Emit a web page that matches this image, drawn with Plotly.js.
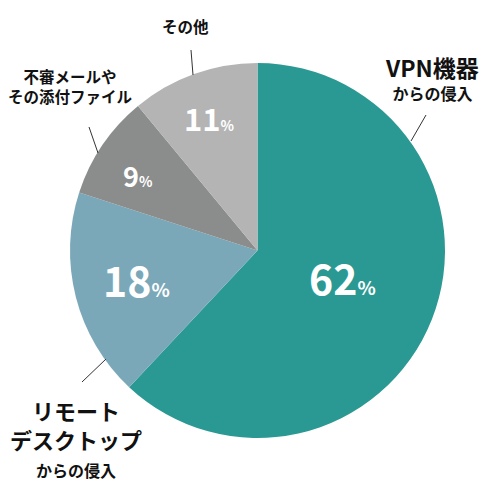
<!DOCTYPE html>
<html>
<head>
<meta charset="utf-8">
<script src="https://cdn.plot.ly/plotly-3.0.1.min.js"></script>
<style>html,body{margin:0;padding:0;background:#fff;}#chart{width:500px;height:500px;}</style>
</head>
<body>
<div id="chart"></div>
<script>
// ---- data ----
const categories = ["VPN機器からの侵入", "リモートデスクトップからの侵入", "不審メールやその添付ファイル", "その他"];
const values = [62, 18, 9, 11];
const sliceColors = ["#2b9993", "#7ba8b9", "#8b8c8c", "#b4b4b4"];
const outsideLabels = [
  ["VPN機器", "からの侵入"],
  ["リモート", "デスクトップ", "からの侵入"],
  ["不審メールや", "その添付ファイル"],
  ["その他"]
];

// ---- layout helpers (pixel -> paper) ----
const W = 500, H = 500;
const px = x => x / W;
const py = y => 1 - y / H;
const FONT = "'Noto Sans CJK JP', 'Noto Sans', sans-serif";

// percent label placement [x, y, numberSize, pctSize]
const pctPlace = [
  [342, 277, 41, 19],
  [136, 279, 41, 19],
  [138, 175, 27, 14],
  [209, 117, 31, 14]
];
// outside label blocks: [x, centerY, baseSize(line spacing), per-line sizes]
const outPlace = [
  [432, 77, 18, [23, 16]],
  [76, 438, 22, [22, 22, 16]],
  [70, 86, 15, [15.5, 15.5]],
  [185, 26, 15.5, [15.5]]
];
// leader lines [x0,y0,x1,y1]
const leaders = [
  [411, 141, 426, 115],
  [106, 359, 82, 382],
  [98, 153, 89, 127],
  [193, 75, 191, 50]
];

const annotations = [];
values.forEach((v, i) => {
  const p = pctPlace[i];
  annotations.push({
    x: px(p[0]), y: py(p[1]), xref: "paper", yref: "paper",
    xanchor: "center", yanchor: "middle", showarrow: false,
    text: "<b>" + v + "</b><span style='font-size:" + p[3] + "px'><b>%</b></span>",
    font: {family: FONT, size: p[2], color: "#ffffff"}
  });
  const q = outPlace[i];
  const txt = outsideLabels[i].map((t, j) =>
    "<span style='font-size:" + q[3][j] + "px'><b>" + t + "</b></span>").join("<br>");
  annotations.push({
    x: px(q[0]), y: py(q[1]), xref: "paper", yref: "paper",
    xanchor: "center", yanchor: "middle", showarrow: false, align: "center",
    text: txt, font: {family: FONT, size: q[2], color: "#111111"}
  });
});

const shapes = leaders.map(l => ({
  type: "line", xref: "paper", yref: "paper",
  x0: px(l[0]), y0: py(l[1]), x1: px(l[2]), y1: py(l[3]),
  line: {color: "#333333", width: 1}
}));

const trace = {
  type: "pie",
  labels: categories,
  values: values,
  sort: false,
  direction: "clockwise",
  rotation: 0,
  marker: {colors: sliceColors, line: {width: 0}},
  textinfo: "none",
  hoverinfo: "label+percent",
  domain: {x: [px(70), px(445)], y: [py(438), py(63)]},
  showlegend: false
};

const layout = {
  width: W, height: H,
  margin: {l: 0, r: 0, t: 0, b: 0},
  paper_bgcolor: "#ffffff",
  showlegend: false,
  annotations: annotations,
  shapes: shapes,
  font: {family: FONT}
};

Plotly.newPlot("chart", [trace], layout, {staticPlot: true, displayModeBar: false});
</script>
</body>
</html>
